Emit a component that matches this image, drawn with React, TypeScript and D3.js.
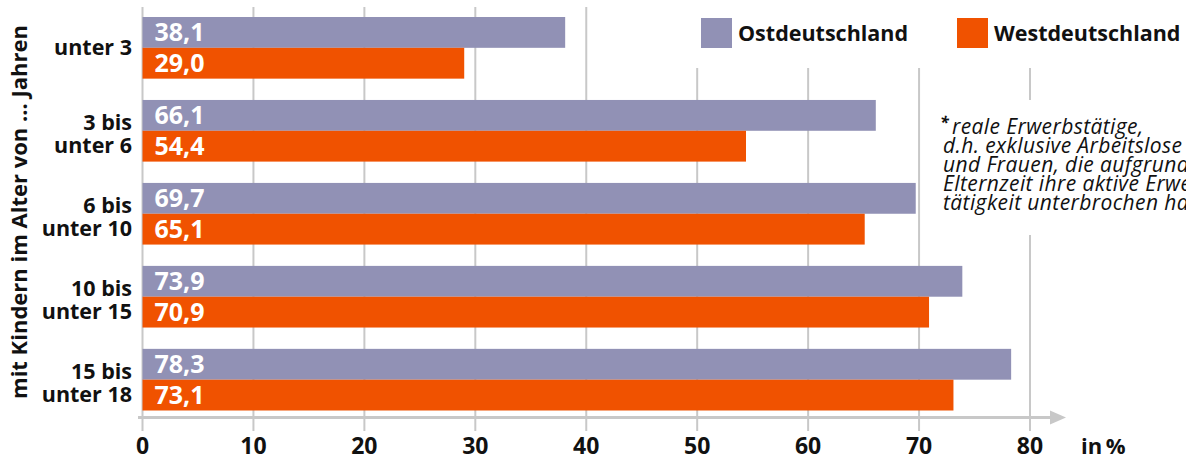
import React from "react";
import * as d3 from "d3";

const categories = ["unter 3", "3 bis|unter 6", "6 bis|unter 10", "10 bis|unter 15", "15 bis|unter 18"];
const series = ["Ostdeutschland", "Westdeutschland"];
const ost = [38.1, 66.1, 69.7, 73.9, 78.3];
const west = [29.0, 54.4, 65.1, 70.9, 73.1];
const xTicks = [0, 10, 20, 30, 40, 50, 60, 70, 80];
const colors = ["#9191b5", "#f05200"];
const footnote = [
  "reale Erwerbstätige,",
  "d.h. exklusive Arbeitslose",
  "und Frauen, die aufgrund der",
  "Elternzeit ihre aktive Erwerbs-",
  "tätigkeit unterbrochen haben",
];
const yTitle = "mit Kindern im Alter von ... Jahren";

const W = 1186;
const H = 462;
const FONT = "'Open Sans', 'DejaVu Sans', sans-serif";

export default function App() {
  const x = d3.scaleLinear().domain([0, 80]).range([142.5, 1030]);
  const y = d3.scaleBand<string>().domain(categories).range([17, 410.5]).paddingInner(0.257).paddingOuter(0);
  const sub = d3.scaleBand<string>().domain(series).range([0, y.bandwidth()]).padding(0);
  const values = [ost, west];
  const axisY = 417.5;
  const grey = "#c8c8c8";

  return (
    <svg width={W} height={H} style={{ position: "absolute", left: 0, top: 0, background: "#fff" }} fontFamily={FONT}>
      {/* gridlines */}
      {xTicks.map((t) => (
        <line key={"g" + t} x1={x(t)} x2={x(t)} y1={7} y2={431} stroke={grey} strokeWidth={2} />
      ))}
      {/* white boxes behind legend and footnote */}
      <rect x={690} y={0} width={W - 690} height={68} fill="#fff" />
      <rect x={926} y={100} width={W - 926} height={135} fill="#fff" />

      {/* bars */}
      {categories.map((c, i) => (
        <g key={c} transform={`translate(0,${y(c)})`}>
          {series.map((s, j) => (
            <g key={s}>
              <rect
                x={x(0)}
                y={sub(s)}
                width={x(values[j][i]) - x(0)}
                height={sub.bandwidth()}
                fill={colors[j]}
              />
              <text
                x={x(0) + 12}
                y={(sub(s) as number) + sub.bandwidth() / 2 + 9}
                fill="#fff"
                fontWeight={700}
                fontSize={25}
              >
                {values[j][i].toFixed(1).replace(".", ",")}
              </text>
            </g>
          ))}
          {(() => {
            const lines = c.split("|");
            const cy = y.bandwidth() / 2;
            if (lines.length === 1) {
              return (
                <text x={132} y={cy + 7.5} textAnchor="end" fontWeight={700} fontSize={21.5} fill="#111">
                  {lines[0]}
                </text>
              );
            }
            return lines.map((l, k) => (
              <text key={k} x={132} y={cy - 0.5 + k * 23} textAnchor="end" fontWeight={700} fontSize={21.5} fill="#111">
                {l}
              </text>
            ));
          })()}
        </g>
      ))}

      {/* axis line with arrow */}
      <line x1={138} x2={1052} y1={axisY} y2={axisY} stroke={grey} strokeWidth={3} />
      <path d={`M1050,${axisY - 7} L1066,${axisY} L1050,${axisY + 7} Z`} fill={grey} />
      {xTicks.map((t) => (
        <text key={"t" + t} x={x(t)} y={454} textAnchor="middle" fontWeight={700} fontSize={23} fill="#111">
          {t}
        </text>
      ))}
      <text x={1081} y={454} fontWeight={700} fontSize={22} fill="#111">{"in\u2009%"}</text>

      {/* y-axis title */}
      <text
        transform="translate(27,212) rotate(-90)"
        textAnchor="middle"
        fontWeight={700}
        fontSize={22}
        fill="#111"
      >
        {yTitle}
      </text>

      {/* legend */}
      {series.map((s, j) => (
        <g key={"l" + s} transform={`translate(${j === 0 ? 701 : 957},18)`}>
          <rect x={0} y={0} width={31} height={30} fill={colors[j]} />
          <text x={37} y={22.5} fontWeight={700} fontSize={21.5} fill="#111">{s}</text>
        </g>
      ))}

      {/* footnote */}
      <text x={940} y={128} fontSize={16} fontStyle="italic" fontWeight={700} fill="#111">*</text>
      {footnote.map((l, k) => (
        <text
          key={"f" + k}
          x={k === 0 ? 952 : 943}
          y={134 + k * 19}
          fontSize={21}
          letterSpacing={0.4}
          fontStyle="italic"
          fill="#111"
        >
          {l}
        </text>
      ))}
    </svg>
  );
}
